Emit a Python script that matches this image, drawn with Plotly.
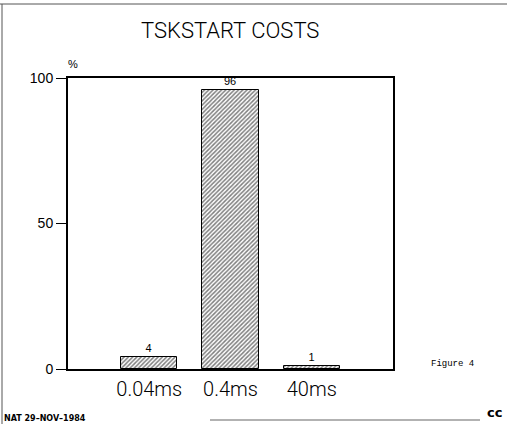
import plotly.graph_objects as go

categories = ["0.04ms", "0.4ms", "40ms"]
values = [4, 96, 1]
value_labels = ["4", "96", "1"]
y_ticks = [0, 50, 100]

x_pos = list(range(len(categories)))

fig = go.Figure()
fig.add_trace(go.Bar(
    x=x_pos, y=values, width=0.69,
    marker=dict(color="white", line=dict(color="black", width=1),
                pattern=dict(shape="/", fgcolor="black", bgcolor="white", size=3, solidity=0.5)),
    text=value_labels, textposition="outside", cliponaxis=False,
    textfont=dict(family="Liberation Sans", size=11, color="black"),
))

L, R, T, B = 68, 114, 78, 55
W, H = 507, 424
pw, ph = W - L - R, H - T - B

def px(x):
    return (x - L) / pw

def py(y):
    return (H - B - y) / ph

def note(text, x, y, font, xanchor="center"):
    return dict(text=text, x=px(x), y=py(y), xref="paper", yref="paper",
                xanchor=xanchor, yanchor="middle", showarrow=False, font=font)

fig.update_layout(
    width=W, height=H, margin=dict(l=L, r=R, t=T, b=B),
    paper_bgcolor="white", plot_bgcolor="white", showlegend=False,
    bargap=0,
    xaxis=dict(range=[-1, 3], tickvals=x_pos, ticktext=categories, showgrid=False,
               zeroline=False, showline=True, linecolor="black", linewidth=2, mirror=True,
               ticks="", ticklabelstandoff=1,
               tickfont=dict(family="Roboto", size=20, color="black", weight=300)),
    yaxis=dict(range=[0, 100], tickvals=y_ticks, showgrid=False, zeroline=False,
               showline=True, linecolor="black", linewidth=2, mirror=True,
               ticks="outside", ticklen=10, tickwidth=1, tickcolor="black",
               tickfont=dict(family="Liberation Sans", size=14, color="black")),
    annotations=[
        note("TSKSTART COSTS", 230, 31, dict(family="Roboto", size=22, color="black", weight=300)),
        note("%", 73, 64, dict(family="Liberation Sans", size=11, color="black")),
        note("Figure 4", 452, 364, dict(family="Liberation Mono", size=9, color="black")),
        note("<b>NAT 29\u2013NOV\u20131984</b>", 2, 418,
             dict(family="DejaVu Sans", size=8, color="black"), xanchor="left"),
        note("<b>cc</b>", 494, 412, dict(family="DejaVu Sans", size=13, color="black")),
    ],
    shapes=[
        dict(type="line", xref="paper", yref="paper", x0=px(0), x1=px(507), y0=py(4), y1=py(4),
             line=dict(color="#555", width=1)),
        dict(type="line", xref="paper", yref="paper", x0=px(2), x1=px(2), y0=py(4), y1=py(424),
             line=dict(color="#555", width=1)),
        dict(type="line", xref="paper", yref="paper", x0=px(210), x1=px(480), y0=py(420), y1=py(420),
             line=dict(color="#999", width=1.5)),
    ],
)

fig.write_html("out.html")
